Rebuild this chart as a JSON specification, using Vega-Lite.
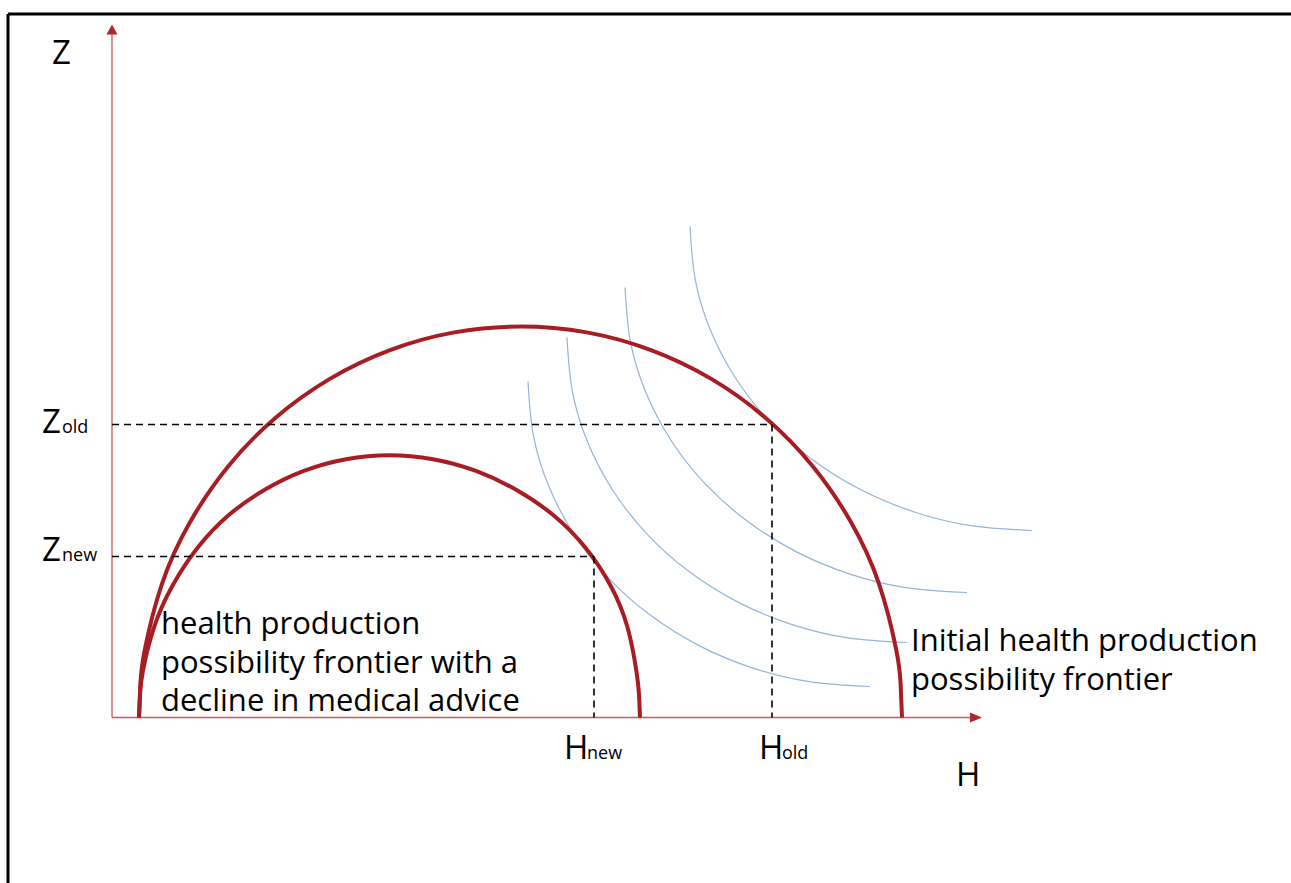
{
  "$schema": "https://vega.github.io/schema/vega-lite/v6.json",
  "width": 1291,
  "height": 883,
  "autosize": "none",
  "padding": 0,
  "background": "white",
  "config": {"view": {"stroke": null}},
  "encoding": {
    "x": {"field": "x", "type": "quantitative", "scale": {"domain": [-112, 1179], "nice": false, "zero": false}, "axis": null},
    "y": {"field": "y", "type": "quantitative", "scale": {"domain": [-165.5, 717.5], "nice": false, "zero": false}, "axis": null}
  },
  "layer": [
    {
      "data": {"values": [
        {"x": -104, "y": 703.5, "x2": 1200, "y2": 703.5},
        {"x": -104, "y": 703.5, "x2": -104, "y2": -200}
      ]},
      "mark": {"type": "rule", "color": "black", "strokeWidth": 3},
      "encoding": {"x2": {"field": "x2"}, "y2": {"field": "y2"}}
    },
    {
      "data": {"values": [
        {"x": 0, "y": 0, "x2": 0, "y2": 688},
        {"x": 0, "y": 0, "x2": 864, "y2": 0}
      ]},
      "mark": {"type": "rule", "color": "#c8575a", "strokeWidth": 1.3},
      "encoding": {"x2": {"field": "x2"}, "y2": {"field": "y2"}}
    },
    {
      "data": {"values": [{"x": 0, "y": 688}]},
      "mark": {"type": "point", "shape": "M0,-1L1.1,1L-1.1,1Z", "size": 100, "filled": true, "color": "#b0262b", "opacity": 1}
    },
    {
      "data": {"values": [{"x": 864, "y": 0}]},
      "mark": {"type": "point", "shape": "M1,0L-1,-0.85L-1,0.85Z", "size": 144, "filled": true, "color": "#b0262b", "opacity": 1}
    },
    {
      "data": {"values": [
        {"c": "A", "o": 0, "x": 578, "y": 491},
        {"c": "A", "o": 1, "x": 583.2, "y": 438.2},
        {"c": "A", "o": 2, "x": 598.6, "y": 387.0},
        {"c": "A", "o": 3, "x": 623.8, "y": 339},
        {"c": "A", "o": 4, "x": 658.0, "y": 295.6},
        {"c": "A", "o": 5, "x": 700.2, "y": 258.1},
        {"c": "A", "o": 6, "x": 749, "y": 227.7},
        {"c": "A", "o": 7, "x": 803.0, "y": 205.3},
        {"c": "A", "o": 8, "x": 860.6, "y": 191.6},
        {"c": "A", "o": 9, "x": 920, "y": 187},
        {"c": "B", "o": 0, "x": 513, "y": 430},
        {"c": "B", "o": 1, "x": 518.2, "y": 377.1},
        {"c": "B", "o": 2, "x": 533.6, "y": 325.7},
        {"c": "B", "o": 3, "x": 558.8, "y": 277.5},
        {"c": "B", "o": 4, "x": 593.0, "y": 233.9},
        {"c": "B", "o": 5, "x": 635.2, "y": 196.4},
        {"c": "B", "o": 6, "x": 684, "y": 165.9},
        {"c": "B", "o": 7, "x": 738.0, "y": 143.4},
        {"c": "B", "o": 8, "x": 795.6, "y": 129.6},
        {"c": "B", "o": 9, "x": 855, "y": 125},
        {"c": "C", "o": 0, "x": 455, "y": 380},
        {"c": "C", "o": 1, "x": 460.2, "y": 327.1},
        {"c": "C", "o": 2, "x": 475.5, "y": 275.7},
        {"c": "C", "o": 3, "x": 500.6, "y": 227.5},
        {"c": "C", "o": 4, "x": 534.6, "y": 183.9},
        {"c": "C", "o": 5, "x": 576.4, "y": 146.4},
        {"c": "C", "o": 6, "x": 625, "y": 115.9},
        {"c": "C", "o": 7, "x": 678.7, "y": 93.4},
        {"c": "C", "o": 8, "x": 736.0, "y": 79.6},
        {"c": "C", "o": 9, "x": 795, "y": 75},
        {"c": "D", "o": 0, "x": 416, "y": 336},
        {"c": "D", "o": 1, "x": 421.2, "y": 283.1},
        {"c": "D", "o": 2, "x": 436.6, "y": 231.7},
        {"c": "D", "o": 3, "x": 461.8, "y": 183.5},
        {"c": "D", "o": 4, "x": 496.0, "y": 139.9},
        {"c": "D", "o": 5, "x": 538.2, "y": 102.4},
        {"c": "D", "o": 6, "x": 587, "y": 71.9},
        {"c": "D", "o": 7, "x": 641.0, "y": 49.4},
        {"c": "D", "o": 8, "x": 698.6, "y": 35.6},
        {"c": "D", "o": 9, "x": 758, "y": 31}
      ]},
      "mark": {"type": "line", "color": "#95b4d6", "strokeWidth": 1.2, "interpolate": "natural"},
      "encoding": {"detail": {"field": "c"}, "order": {"field": "o", "type": "quantitative"}}
    },
    {
      "data": {"values": [
        {"c": "outer", "o": 0, "x": 790, "y": 0},
        {"c": "outer", "o": 1, "x": 788.6, "y": 34.1},
        {"c": "outer", "o": 2, "x": 784.2, "y": 67.9},
        {"c": "outer", "o": 3, "x": 767.0, "y": 133.7},
        {"c": "outer", "o": 4, "x": 738.9, "y": 195.5},
        {"c": "outer", "o": 5, "x": 700.7, "y": 251.3},
        {"c": "outer", "o": 6, "x": 653.7, "y": 299.5},
        {"c": "outer", "o": 7, "x": 599.3, "y": 338.6},
        {"c": "outer", "o": 8, "x": 539.0, "y": 367.4},
        {"c": "outer", "o": 9, "x": 474.7, "y": 385.1},
        {"c": "outer", "o": 10, "x": 408.5, "y": 391},
        {"c": "outer", "o": 11, "x": 342.3, "y": 385.1},
        {"c": "outer", "o": 12, "x": 278.0, "y": 367.4},
        {"c": "outer", "o": 13, "x": 217.8, "y": 338.6},
        {"c": "outer", "o": 14, "x": 163.3, "y": 299.5},
        {"c": "outer", "o": 15, "x": 116.3, "y": 251.3},
        {"c": "outer", "o": 16, "x": 78.1, "y": 195.5},
        {"c": "outer", "o": 17, "x": 50.0, "y": 133.7},
        {"c": "outer", "o": 18, "x": 32.8, "y": 67.9},
        {"c": "outer", "o": 19, "x": 28.4, "y": 34.1},
        {"c": "outer", "o": 20, "x": 27, "y": 0},
        {"c": "inner", "o": 0, "x": 528, "y": 0},
        {"c": "inner", "o": 1, "x": 527.0, "y": 23.0},
        {"c": "inner", "o": 2, "x": 524.5, "y": 45.8},
        {"c": "inner", "o": 3, "x": 515.5, "y": 90.3},
        {"c": "inner", "o": 4, "x": 498.5, "y": 132},
        {"c": "inner", "o": 5, "x": 473.5, "y": 169.7},
        {"c": "inner", "o": 6, "x": 441.5, "y": 202.2},
        {"c": "inner", "o": 7, "x": 404.5, "y": 227.5},
        {"c": "inner", "o": 8, "x": 364.0, "y": 246.6},
        {"c": "inner", "o": 9, "x": 321.0, "y": 258.3},
        {"c": "inner", "o": 10, "x": 277.5, "y": 262.3},
        {"c": "inner", "o": 11, "x": 234.0, "y": 258.3},
        {"c": "inner", "o": 12, "x": 191.8, "y": 246.6},
        {"c": "inner", "o": 13, "x": 152.3, "y": 227.5},
        {"c": "inner", "o": 14, "x": 116.5, "y": 202.2},
        {"c": "inner", "o": 15, "x": 85.6, "y": 169.7},
        {"c": "inner", "o": 16, "x": 60.6, "y": 132},
        {"c": "inner", "o": 17, "x": 42.1, "y": 90.3},
        {"c": "inner", "o": 18, "x": 30.8, "y": 45.8},
        {"c": "inner", "o": 19, "x": 28.0, "y": 23.0},
        {"c": "inner", "o": 20, "x": 27, "y": 0}
      ]},
      "mark": {"type": "line", "color": "#a81d24", "strokeWidth": 4, "interpolate": "natural"},
      "encoding": {"detail": {"field": "c"}, "order": {"field": "o", "type": "quantitative"}}
    },
    {
      "data": {"values": [
        {"x": 0, "y": 293, "x2": 660, "y2": 293},
        {"x": 660, "y": 293, "x2": 660, "y2": 0},
        {"x": 0, "y": 161, "x2": 482, "y2": 161},
        {"x": 482, "y": 161, "x2": 482, "y2": 0}
      ]},
      "mark": {"type": "rule", "color": "black", "strokeWidth": 1.6, "strokeDash": [7, 5]},
      "encoding": {"x2": {"field": "x2"}, "y2": {"field": "y2"}}
    },
    {
      "data": {"values": [
        {"x": -60, "y": 654, "t": "Z"},
        {"x": -70, "y": 285, "t": "Z"},
        {"x": -70, "y": 157, "t": "Z"},
        {"x": 452, "y": -41, "t": "H"},
        {"x": 647, "y": -41, "t": "H"},
        {"x": 844, "y": -68, "t": "H"}
      ]},
      "mark": {"type": "text", "font": "Open Sans", "fontSize": 33, "align": "left", "baseline": "alphabetic", "color": "black"},
      "encoding": {"text": {"field": "t"}}
    },
    {
      "data": {"values": [
        {"x": -50, "y": 285, "t": "old"},
        {"x": -50, "y": 157, "t": "new"},
        {"x": 475, "y": -41, "t": "new"},
        {"x": 670, "y": -41, "t": "old"}
      ]},
      "mark": {"type": "text", "font": "Open Sans", "fontSize": 18, "align": "left", "baseline": "alphabetic", "color": "black"},
      "encoding": {"text": {"field": "t"}}
    },
    {
      "data": {"values": [
        {"x": 49, "y": 84, "t": "health production"},
        {"x": 49, "y": 45, "t": "possibility frontier with a"},
        {"x": 49, "y": 7, "t": "decline in medical advice"},
        {"x": 799, "y": 67, "t": "Initial health production"},
        {"x": 799, "y": 28, "t": "possibility frontier"}
      ]},
      "mark": {"type": "text", "font": "Open Sans", "fontSize": 31, "align": "left", "baseline": "alphabetic", "color": "black"},
      "encoding": {"text": {"field": "t"}}
    }
  ]
}
